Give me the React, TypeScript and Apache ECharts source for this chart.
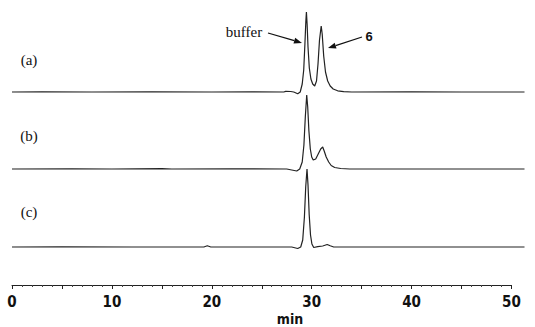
import React, { useEffect, useRef } from "react";
import * as echarts from "echarts";

// Chromatogram traces: [retention time (min), detector signal (arbitrary units)]
const traceA: [number, number][] = [
  [0, 0], [3, 0.2], [8, 0], [14, 0.2], [20, 0], [24, 0.2], [27.2, 0], [27.4, 0.6], [27.9, 0.5],
  [28.2, 0], [28.6, -1.8], [28.85, 0], [29.05, 8], [29.2, 22], [29.32, 48], [29.41, 70],
  [29.47, 80], [29.54, 68], [29.63, 45], [29.76, 24], [29.92, 13], [30.1, 8], [30.3, 6],
  [30.48, 11], [30.63, 28], [30.78, 52], [30.95, 66], [31.05, 58], [31.2, 36], [31.38, 20],
  [31.6, 11], [31.85, 6], [32.15, 3], [32.6, 1.2], [33.2, 0.4], [34, 0], [40, 0.2], [45, 0], [51.3, 0],
];
const traceB: [number, number][] = [
  [0, 0], [6, 0.2], [10, 0], [15, 0.3], [16, 0], [22, 0.2], [27.5, 0], [28.5, -2], [28.8, 0],
  [29.05, 7], [29.22, 24], [29.36, 52], [29.5, 74], [29.6, 62], [29.72, 38], [29.86, 20],
  [30.0, 12], [30.15, 9], [30.4, 10], [30.65, 15], [30.9, 20], [31.1, 22], [31.25, 18],
  [31.45, 12], [31.7, 7], [31.95, 3.5], [32.3, 1.5], [32.9, 0.5], [33.8, 0], [51.3, 0],
];
const traceC: [number, number][] = [
  [0, 0], [5, 0.2], [12, 0], [19.2, 0], [19.55, 1.2], [19.9, 0], [25, 0], [28.0, 0],
  [28.6, -1.5], [28.9, 0], [29.1, 7], [29.27, 30], [29.4, 60], [29.53, 78], [29.63, 62],
  [29.75, 32], [29.88, 12], [30.02, 3], [30.2, -0.5], [30.6, 0.3], [31.1, 1], [31.55, 2.5],
  [31.85, 1.2], [32.2, 0], [51.3, 0],
];
const traceNames = ["(a)", "(b)", "(c)"];
const traces = [traceA, traceB, traceC];
const xTickLabels = [0, 10, 20, 30, 40, 50];

// layout (pixels)
const baselinesPx = [92, 169, 247];
const labelYPx = [60, 136, 212];

export default function App() {
  const ref = useRef<HTMLDivElement>(null);
  useEffect(() => {
    if (!ref.current) return;
    const chart = echarts.init(ref.current, undefined, { renderer: "svg" });
    const H = 300;
    const series = traces.map((tr, i) => ({
      type: "line",
      xAxisIndex: 1,
      yAxisIndex: 1,
      name: traceNames[i],
      data: tr.map(([t, s]) => [t, H - baselinesPx[i] + s]),
      showSymbol: false,
      symbol: "none",
      lineStyle: { color: "#222", width: 1.2 },
      silent: true,
    }));
    const arrow = (x1: number, y1: number, x2: number, y2: number) => {
      const dx = x2 - x1, dy = y2 - y1;
      const L = Math.hypot(dx, dy);
      const ux = dx / L, uy = dy / L;
      const hl = 8, hw = 3;
      const bx = x2 - ux * hl, by = y2 - uy * hl;
      return [
        { type: "line", shape: { x1, y1, x2: bx, y2: by }, style: { stroke: "#111", lineWidth: 1.3 } },
        {
          type: "polygon",
          shape: { points: [[x2, y2], [bx - uy * hw, by + ux * hw], [bx + uy * hw, by - ux * hw]] },
          style: { fill: "#111" },
        },
      ];
    };
    chart.setOption({
      animation: false,
      backgroundColor: "#fff",
      grid: [
        { left: 12, top: 0, width: 499.5, height: 285 },
        { left: 12, top: 0, width: 512.5, height: H },
      ],
      xAxis: [
        {
          gridIndex: 0,
          type: "value",
          min: 0,
          max: 50,
          interval: 5,
          axisLine: { show: true, lineStyle: { color: "#222", width: 1 } },
          axisTick: { show: true, length: 4, lineStyle: { color: "#222" } },
          minorTick: { show: true, splitNumber: 5, length: 2, lineStyle: { color: "#444" } },
          splitLine: { show: false },
          axisLabel: {
            margin: 9,
            color: "#111",
            fontSize: 15,
            fontWeight: "bold",
            fontFamily: "'Liberation Sans Narrow', 'DejaVu Sans Condensed', sans-serif",
            formatter: (v: number) => (xTickLabels.includes(v) ? String(v) : ""),
          },
        },
        { gridIndex: 1, type: "value", min: 0, max: 51.3, show: false },
      ],
      yAxis: [
        { gridIndex: 0, type: "value", show: false },
        { gridIndex: 1, type: "value", min: 0, max: H, show: false },
      ],
      series,
      graphic: [
        ...traceNames.map((n, i) => ({
          type: "text",
          x: 29,
          y: labelYPx[i],
          style: {
            text: n,
            fontSize: 15,
            fontFamily: "'Liberation Serif', 'DejaVu Serif', serif",
            fill: "#111",
            textAlign: "center",
            textVerticalAlign: "middle",
          },
        })),
        {
          type: "text",
          x: 244,
          y: 32,
          style: {
            text: "buffer",
            fontSize: 15,
            fontFamily: "'Liberation Serif', 'DejaVu Serif', serif",
            fill: "#111",
            textAlign: "center",
            textVerticalAlign: "middle",
          },
        },
        {
          type: "text",
          x: 369,
          y: 36,
          style: {
            text: "6",
            fontSize: 13,
            fontWeight: "bold",
            fontFamily: "'Liberation Sans', Arial, sans-serif",
            fill: "#111",
            textAlign: "center",
            textVerticalAlign: "middle",
          },
        },
        ...arrow(268, 33, 302, 43),
        ...arrow(362, 37, 328, 48),
        {
          type: "text",
          x: 290,
          y: 319,
          style: {
            text: "min",
            fontSize: 14,
            fontWeight: "bold",
            fontFamily: "'Liberation Sans Narrow', 'DejaVu Sans Condensed', sans-serif",
            fill: "#111",
            textAlign: "center",
            textVerticalAlign: "middle",
          },
        },
      ],
    });
    return () => chart.dispose();
  }, []);
  return (
    <div
      ref={ref}
      style={{ position: "fixed", left: 0, top: 0, width: 535, height: 327, background: "#fff" }}
    />
  );
}
